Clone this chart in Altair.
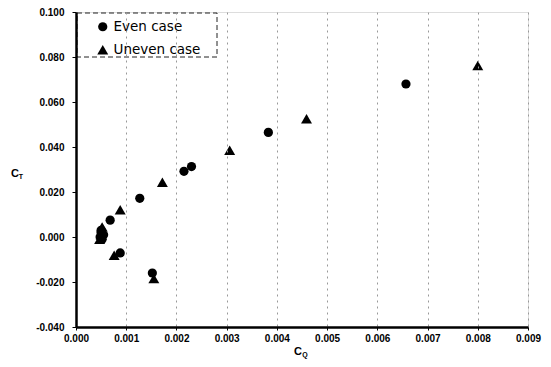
import altair as alt
import pandas as pd

even_x = [0.00657, 0.00383, 0.0023, 0.00215, 0.00127, 0.00068, 0.00055, 0.00050, 0.00048, 0.00052, 0.00050, 0.00088, 0.00152]
even_y = [0.068, 0.0465, 0.0313, 0.0292, 0.0172, 0.0075, 0.001, 0.003, 0.000, -0.001, 0.002, -0.0071, -0.016]
uneven_x = [0.0080, 0.00459, 0.00306, 0.00172, 0.00088, 0.00052, 0.00050, 0.00047, 0.00076, 0.00155]
uneven_y = [0.0762, 0.0526, 0.0386, 0.0243, 0.0121, 0.0045, 0.001, -0.001, -0.0081, -0.0185]
series = ["Even case", "Uneven case"]
x_ticks = [0.000, 0.001, 0.002, 0.003, 0.004, 0.005, 0.006, 0.007, 0.008, 0.009]
y_ticks = [-0.04, -0.02, 0.0, 0.02, 0.04, 0.06, 0.08, 0.10]

df = pd.DataFrame({
    "CQ": even_x + uneven_x,
    "CT": even_y + uneven_y,
    "case": [series[0]] * len(even_x) + [series[1]] * len(uneven_x),
})

FONT = "Liberation Sans"
LBL = "replace(format(datum.value, '.3f'), '\u2212', '-')"

points = alt.Chart(df).mark_point(filled=True, opacity=1, color="black").encode(
    x=alt.X("CQ:Q", scale=alt.Scale(domain=[0, 0.009], nice=False),
            axis=alt.Axis(values=x_ticks, labelExpr=LBL, title=None, grid=True,
                          gridDash=[2, 4], gridColor="#999", gridWidth=1,
                          domainWidth=2.5, domainColor="black", tickSize=3,
                          tickColor="black", labelPadding=3, labelFlush=False,
                          labelFont=FONT, labelFontSize=10, labelFontWeight="bold",
                          labelColor="black", zindex=2)),
    y=alt.Y("CT:Q", scale=alt.Scale(domain=[-0.04, 0.10], nice=False),
            axis=alt.Axis(values=y_ticks, labelExpr=LBL, title=None, grid=False,
                          domainWidth=2.5, domainColor="black", tickSize=4,
                          tickColor="black", labelPadding=8, labelFlush=False,
                          labelFont=FONT, labelFontSize=10, labelFontWeight="bold",
                          labelColor="black", zindex=2)),
    shape=alt.Shape("case:N", scale=alt.Scale(domain=series, range=["circle", "triangle-up"]),
                    legend=alt.Legend(title=None, orient="none", legendX=-4, legendY=2,
                                      padding=6, symbolOffset=18, labelOffset=4,
                                      rowPadding=7, labelFont="DejaVu Sans",
                                      labelFontSize=13.5, labelColor="black",
                                      symbolFillColor="black", symbolStrokeColor="black")),
    size=alt.Size("case:N", scale=alt.Scale(domain=series, range=[85, 120])),
)

box = alt.Chart(pd.DataFrame({"b": [0]})).mark_rect(
    fill="white", stroke="#222", strokeWidth=1, strokeDash=[5, 3]
).encode(x=alt.value(1), x2=alt.value(141), y=alt.value(1), y2=alt.value(45))

lab = pd.DataFrame({"t": ["C"]})
subT = pd.DataFrame({"t": ["T"]})
subQ = pd.DataFrame({"t": ["Q"]})

def txt(d, x, y, size):
    return alt.Chart(d).mark_text(font=FONT, fontWeight="bold", fontSize=size,
                                  color="black", align="center", baseline="middle").encode(
        text="t:N", x=alt.value(x), y=alt.value(y))

chart = alt.layer(
    box, points,
    txt(lab, -61, 162, 11), txt(subT, -55, 165, 7),
    txt(lab, 222, 340, 11), txt(subQ, 229, 343, 7),
).properties(
    width=452, height=315,
    autosize=alt.AutoSizeParams(type="none"),
    padding={"left": 76, "top": 12, "right": 23, "bottom": 40},
).configure_view(stroke="black", strokeWidth=1.5
).configure(background="white")

chart.save("out.html", embed_options={"renderer": "svg", "actions": False})
